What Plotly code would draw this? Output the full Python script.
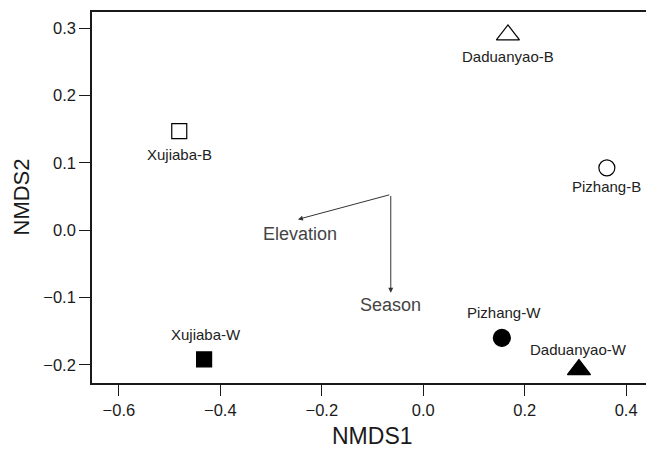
import plotly.graph_objects as go

sites = ["Xujiaba-B", "Daduanyao-B", "Pizhang-B", "Xujiaba-W", "Pizhang-W", "Daduanyao-W"]
nmds1 = [-0.481, 0.167, 0.362, -0.432, 0.155, 0.307]
nmds2 = [0.147, 0.290, 0.0925, -0.192, -0.160, -0.207]
symbols = ["square-open", "triangle-up-open", "circle-open", "square", "circle", "triangle-up"]
sizes = [15, 20, 16, 15, 17, 20]
# label offsets in pixels relative to marker centre
label_dy = [-23, -22, -19, 25, 25, 20]
label_dx = [0, 0, 0, 2, 2, 0]

# environmental vectors (from origin to head)
vec_names = ["Elevation", "Season"]
vec_x0 = [-0.064, -0.064]
vec_y0 = [0.053, 0.053]
vec_x1 = [-0.247, -0.064]
vec_y1 = [0.016, -0.093]
vec_lab_x = [-0.243, -0.064]
vec_lab_y = [-0.005, -0.111]

FONT = "Liberation Sans, Arial"
INK = "#1a1a1a"

fig = go.Figure()
for i, s in enumerate(sites):
    fig.add_trace(go.Scatter(
        x=[nmds1[i]], y=[nmds2[i]], mode="markers",
        marker=dict(symbol=symbols[i], size=sizes[i], color="black",
                    line=dict(color="black", width=1.2)),
        showlegend=False, hoverinfo="skip"))

for i, s in enumerate(sites):
    fig.add_annotation(x=nmds1[i], y=nmds2[i], text=s, showarrow=False,
                       xshift=label_dx[i], yshift=label_dy[i],
                       font=dict(size=15, color="#222222", family=FONT))

for i in range(len(vec_names)):
    fig.add_annotation(x=vec_x1[i], y=vec_y1[i], ax=vec_x0[i], ay=vec_y0[i],
                       xref="x", yref="y", axref="x", ayref="y",
                       showarrow=True, arrowhead=2, arrowsize=1, arrowwidth=1,
                       arrowcolor="#333333", text="")
    fig.add_annotation(x=vec_lab_x[i], y=vec_lab_y[i], text=vec_names[i], showarrow=False,
                       font=dict(size=18, color="#444444", family=FONT))

# axis titles
fig.add_annotation(x=0.5, y=0, xref="paper", yref="paper", text="NMDS1", showarrow=False,
                   yanchor="middle", yshift=-53, font=dict(size=23, color=INK, family=FONT))
fig.add_annotation(x=0, y=0.5, xref="paper", yref="paper", text="NMDS2", showarrow=False,
                   textangle=-90, xanchor="center", xshift=-71, font=dict(size=22, color=INK, family=FONT))

common = dict(ticks="outside", ticklen=11, tickwidth=1.3, tickcolor=INK,
              showline=True, linecolor=INK, linewidth=1.6, mirror=True,
              showgrid=False, zeroline=False, automargin=False,
              tickfont=dict(size=16.5, color=INK, family=FONT))
fig.update_xaxes(range=[-0.653, 0.451], tickvals=[-0.6, -0.4, -0.2, 0.0, 0.2, 0.4],
                 ticktext=["\u22120.6", "\u22120.4", "\u22120.2", "0.0", "0.2", "0.4"], **common)
fig.update_yaxes(range=[-0.227, 0.324], tickvals=[-0.2, -0.1, 0.0, 0.1, 0.2, 0.3],
                 ticktext=["\u22120.2", "\u22120.1", "0.0", "0.1", "0.2", "0.3"], **common)
# page body has an 8px margin, so the figure is 646x446 and placed at (8, 8)
fig.update_layout(width=646, height=446, margin=dict(l=84, r=2, t=4, b=71),
                  plot_bgcolor="white", paper_bgcolor="white")
fig.write_html("out.html")
